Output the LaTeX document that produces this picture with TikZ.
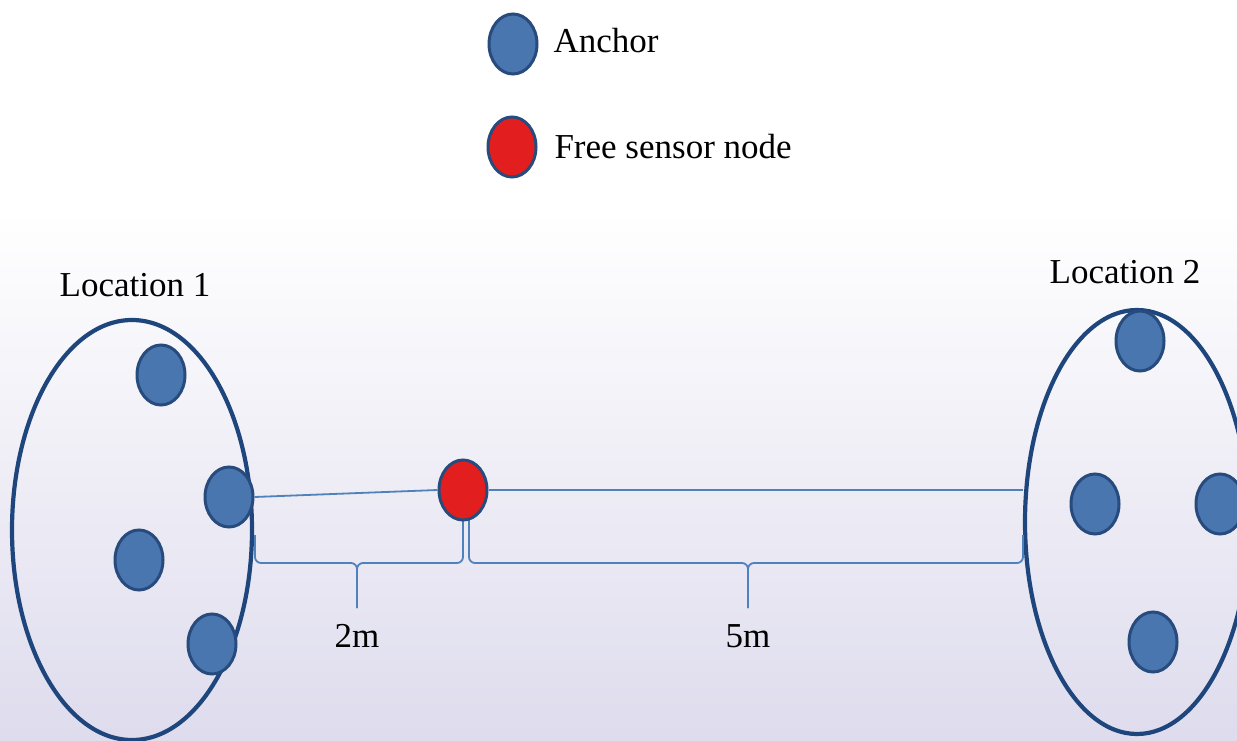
\documentclass[tikz,border=0pt]{standalone}
\usepackage{fontspec}
\setmainfont{Liberation Serif}
\usetikzlibrary{shapes.geometric}

\definecolor{anchorblue}{RGB}{74,118,176}
\definecolor{rimblue}{RGB}{40,75,125}
\definecolor{ringblue}{RGB}{30,70,125}
\definecolor{linkblue}{RGB}{79,129,189}
\definecolor{sensorred}{RGB}{226,30,30}
\definecolor{bglav}{RGB}{222,220,237}

\begin{document}
\begin{tikzpicture}[x=1pt,y=1pt,
    font=\fontsize{35}{42}\selectfont,
    anchornode/.style={ellipse,draw=rimblue,line width=3pt,fill=anchorblue,
        minimum width=48pt,minimum height=60pt,inner sep=0pt},
    sensornode/.style={anchornode,fill=sensorred},
    location/.style={ellipse,draw=ringblue,line width=4.2pt,inner sep=0pt},
    link/.style={draw=linkblue,line width=1.8pt},
    spanline/.style={draw=linkblue,line width=1.8pt,rounded corners=6pt}]
    \useasboundingbox (0,0) rectangle (1237,-741);
    \clip (0,0) rectangle (1237,-741);

    % Background
    \fill [white] (0,0) rectangle (1237,-210);
    \shade [top color=white,bottom color=bglav] (0,-210) rectangle (1237,-741);

    % Legend
    \node [anchornode] (keyanchor) at (513,-44) {};
    \node [anchor=base west] (keyanchortext) at (550,-53) {Anchor};
    \node [sensornode] (keysensor) at (512,-147) {};
    \node [anchor=base west] (keysensortext) at (551,-158) {Free sensor node};

    % Locations
    \node [location,minimum width=240pt,minimum height=420pt] (loc1) at (132,-530) {};
    \node [location,minimum width=224pt,minimum height=424pt] (loc2) at (1137,-522) {};
    \node [anchor=base] (loc1text) at (135,-296) {Location 1};
    \node [anchor=base] (loc2text) at (1125,-283) {Location 2};

    % Distance braces
    \draw [spanline] (255,-535) -- (255,-563) -- (357,-563) -- (357,-608);
    \draw [spanline] (463,-515) -- (463,-563) -- (357,-563) -- (357,-608);
    \draw [spanline] (469,-515) -- (469,-563) -- (748,-563) -- (748,-608);
    \draw [spanline] (1023,-535) -- (1023,-563) -- (748,-563) -- (748,-608);
    \node [anchor=base] (dist1) at (357,-647) {2m};
    \node [anchor=base] (dist2) at (748,-647) {5m};

    % Anchors at location 1
    \node [anchornode] (a1) at (161,-375) {};
    \node [anchornode] (a2) at (229,-497) {};
    \node [anchornode] (a3) at (139,-560) {};
    \node [anchornode] (a4) at (212,-644) {};

    % Anchors at location 2
    \node [anchornode] (b1) at (1140,-341) {};
    \node [anchornode] (b2) at (1095,-504) {};
    \node [anchornode] (b3) at (1220,-504) {};
    \node [anchornode] (b4) at (1153,-642) {};

    % Free sensor and its links
    \node [sensornode] (sensor) at (463,-490) {};
    \coordinate (loc2edge) at (sensor.east -| loc2.west);
    \draw [link] (a2.east) -- (sensor.west);
    \draw [link] (sensor.east) -- (loc2edge);
\end{tikzpicture}
\end{document}
